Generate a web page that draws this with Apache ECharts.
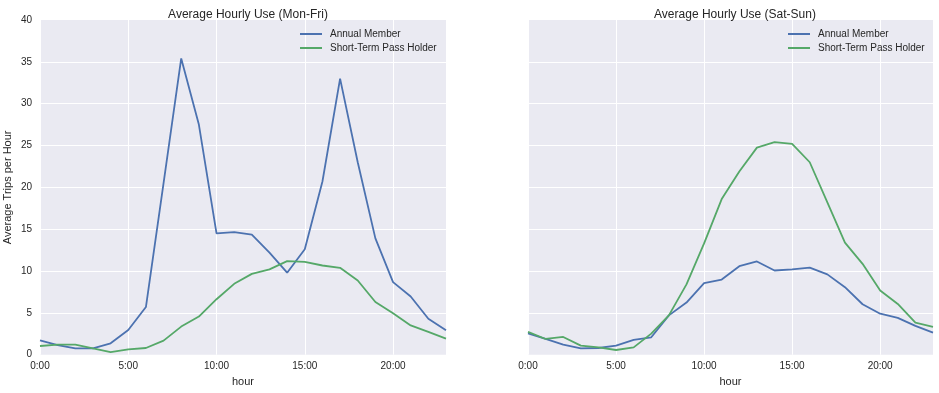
<!DOCTYPE html>
<html>
<head>
<meta charset="utf-8">
<script src="https://cdn.jsdelivr.net/npm/echarts@6/dist/echarts.min.js"></script>
<style>html,body{margin:0;padding:0;background:#fff}#c{width:939px;height:393px}</style>
</head>
<body>
<div id="c"></div>
<script>
const hours = [0,1,2,3,4,5,6,7,8,9,10,11,12,13,14,15,16,17,18,19,20,21,22,23];
const seriesNames = ['Annual Member', 'Short-Term Pass Holder'];
const titles = ['Average Hourly Use (Mon-Fri)', 'Average Hourly Use (Sat-Sun)'];
const weekdayAnnual = [1.7,1.15,0.75,0.75,1.36,2.96,5.7,20.5,35.4,27.5,14.5,14.65,14.35,12.2,9.8,12.6,20.7,33.0,23.0,13.9,8.67,6.95,4.3,2.92];
const weekdayShort = [1.04,1.2,1.2,0.75,0.32,0.64,0.8,1.68,3.36,4.56,6.63,8.47,9.66,10.2,11.18,11.1,10.66,10.38,8.87,6.3,4.95,3.5,2.72,1.92];
const weekendAnnual = [2.56,1.88,1.2,0.75,0.8,1.08,1.76,2.08,4.7,6.23,8.55,8.98,10.58,11.14,10.06,10.2,10.4,9.6,8.07,6.03,4.9,4.4,3.44,2.64];
const weekendShort = [2.72,1.88,2.12,1.08,0.88,0.56,0.88,2.52,4.7,8.4,13.3,18.6,21.9,24.75,25.4,25.2,23.0,18.2,13.4,10.86,7.67,6.07,3.83,3.32];

const FONT = '"Liberation Sans", Arial, sans-serif';
const TXT = '#262626';
const BLUE = '#4C72B0', GREEN = '#55A868';
const pairs = arr => hours.map((h, i) => [h, arr[i]]);

const grids = [
  {left: 40, width: 406, top: 20, height: 334.7},
  {left: 528, width: 405, top: 20, height: 334.7}
];

function xAxis(gi) {
  return {
    type: 'value', gridIndex: gi, min: 0, max: 23, interval: 5,
    name: 'hour', nameLocation: 'middle', nameGap: 21,
    nameTextStyle: {color: TXT, fontFamily: FONT, fontSize: 11},
    axisLine: {show: false}, axisTick: {show: false},
    axisLabel: {color: TXT, fontFamily: FONT, fontSize: 10, margin: 7,
      showMaxLabel: false, formatter: v => v + ':00'},
    splitLine: {show: true, showMaxLine: false, lineStyle: {color: '#ffffff', width: 1}}
  };
}
function yAxis(gi) {
  return {
    type: 'value', gridIndex: gi, min: 0, max: 40, interval: 5,
    name: gi === 0 ? 'Average Trips per Hour' : '', nameLocation: 'middle', nameGap: 27,
    nameTextStyle: {color: TXT, fontFamily: FONT, fontSize: 11},
    axisLine: {show: false}, axisTick: {show: false},
    axisLabel: {show: gi === 0, color: TXT, fontFamily: FONT, fontSize: 10, margin: 8},
    splitLine: {show: true, showMinLine: false, showMaxLine: false, lineStyle: {color: '#ffffff', width: 1}}
  };
}
function line(name, data, color, gi) {
  return {
    type: 'line', name: name, xAxisIndex: gi, yAxisIndex: gi, data: pairs(data),
    showSymbol: false, symbol: 'none', silent: true, animation: false,
    lineStyle: {color: color, width: 1.8}, itemStyle: {color: color}
  };
}
function legend(left) {
  return {
    orient: 'vertical', left: left, top: 24, itemGap: 4,
    icon: 'rect', itemWidth: 22, itemHeight: 2,
    textStyle: {color: TXT, fontFamily: FONT, fontSize: 10, padding: [0, 0, 0, 3]},
    data: seriesNames
  };
}

const chart = echarts.init(document.getElementById('c'), null, {renderer: 'canvas'});
chart.setOption({
  backgroundColor: '#ffffff',
  animation: false,
  title: [
    {text: titles[0], left: 243, top: 4, textAlign: 'center',
      textStyle: {color: TXT, fontFamily: FONT, fontSize: 12, fontWeight: 'normal'}},
    {text: titles[1], left: 730, top: 4, textAlign: 'center',
      textStyle: {color: TXT, fontFamily: FONT, fontSize: 12, fontWeight: 'normal'}}
  ],
  legend: [legend(295), legend(783)],
  grid: grids.map(g => Object.assign({show: true, backgroundColor: '#EAEAF2', borderWidth: 0}, g)),
  xAxis: [xAxis(0), xAxis(1)],
  yAxis: [yAxis(0), yAxis(1)],
  series: [
    line(seriesNames[0], weekdayAnnual, BLUE, 0),
    line(seriesNames[1], weekdayShort, GREEN, 0),
    line(seriesNames[0], weekendAnnual, BLUE, 1),
    line(seriesNames[1], weekendShort, GREEN, 1)
  ]
});
</script>
</body>
</html>
